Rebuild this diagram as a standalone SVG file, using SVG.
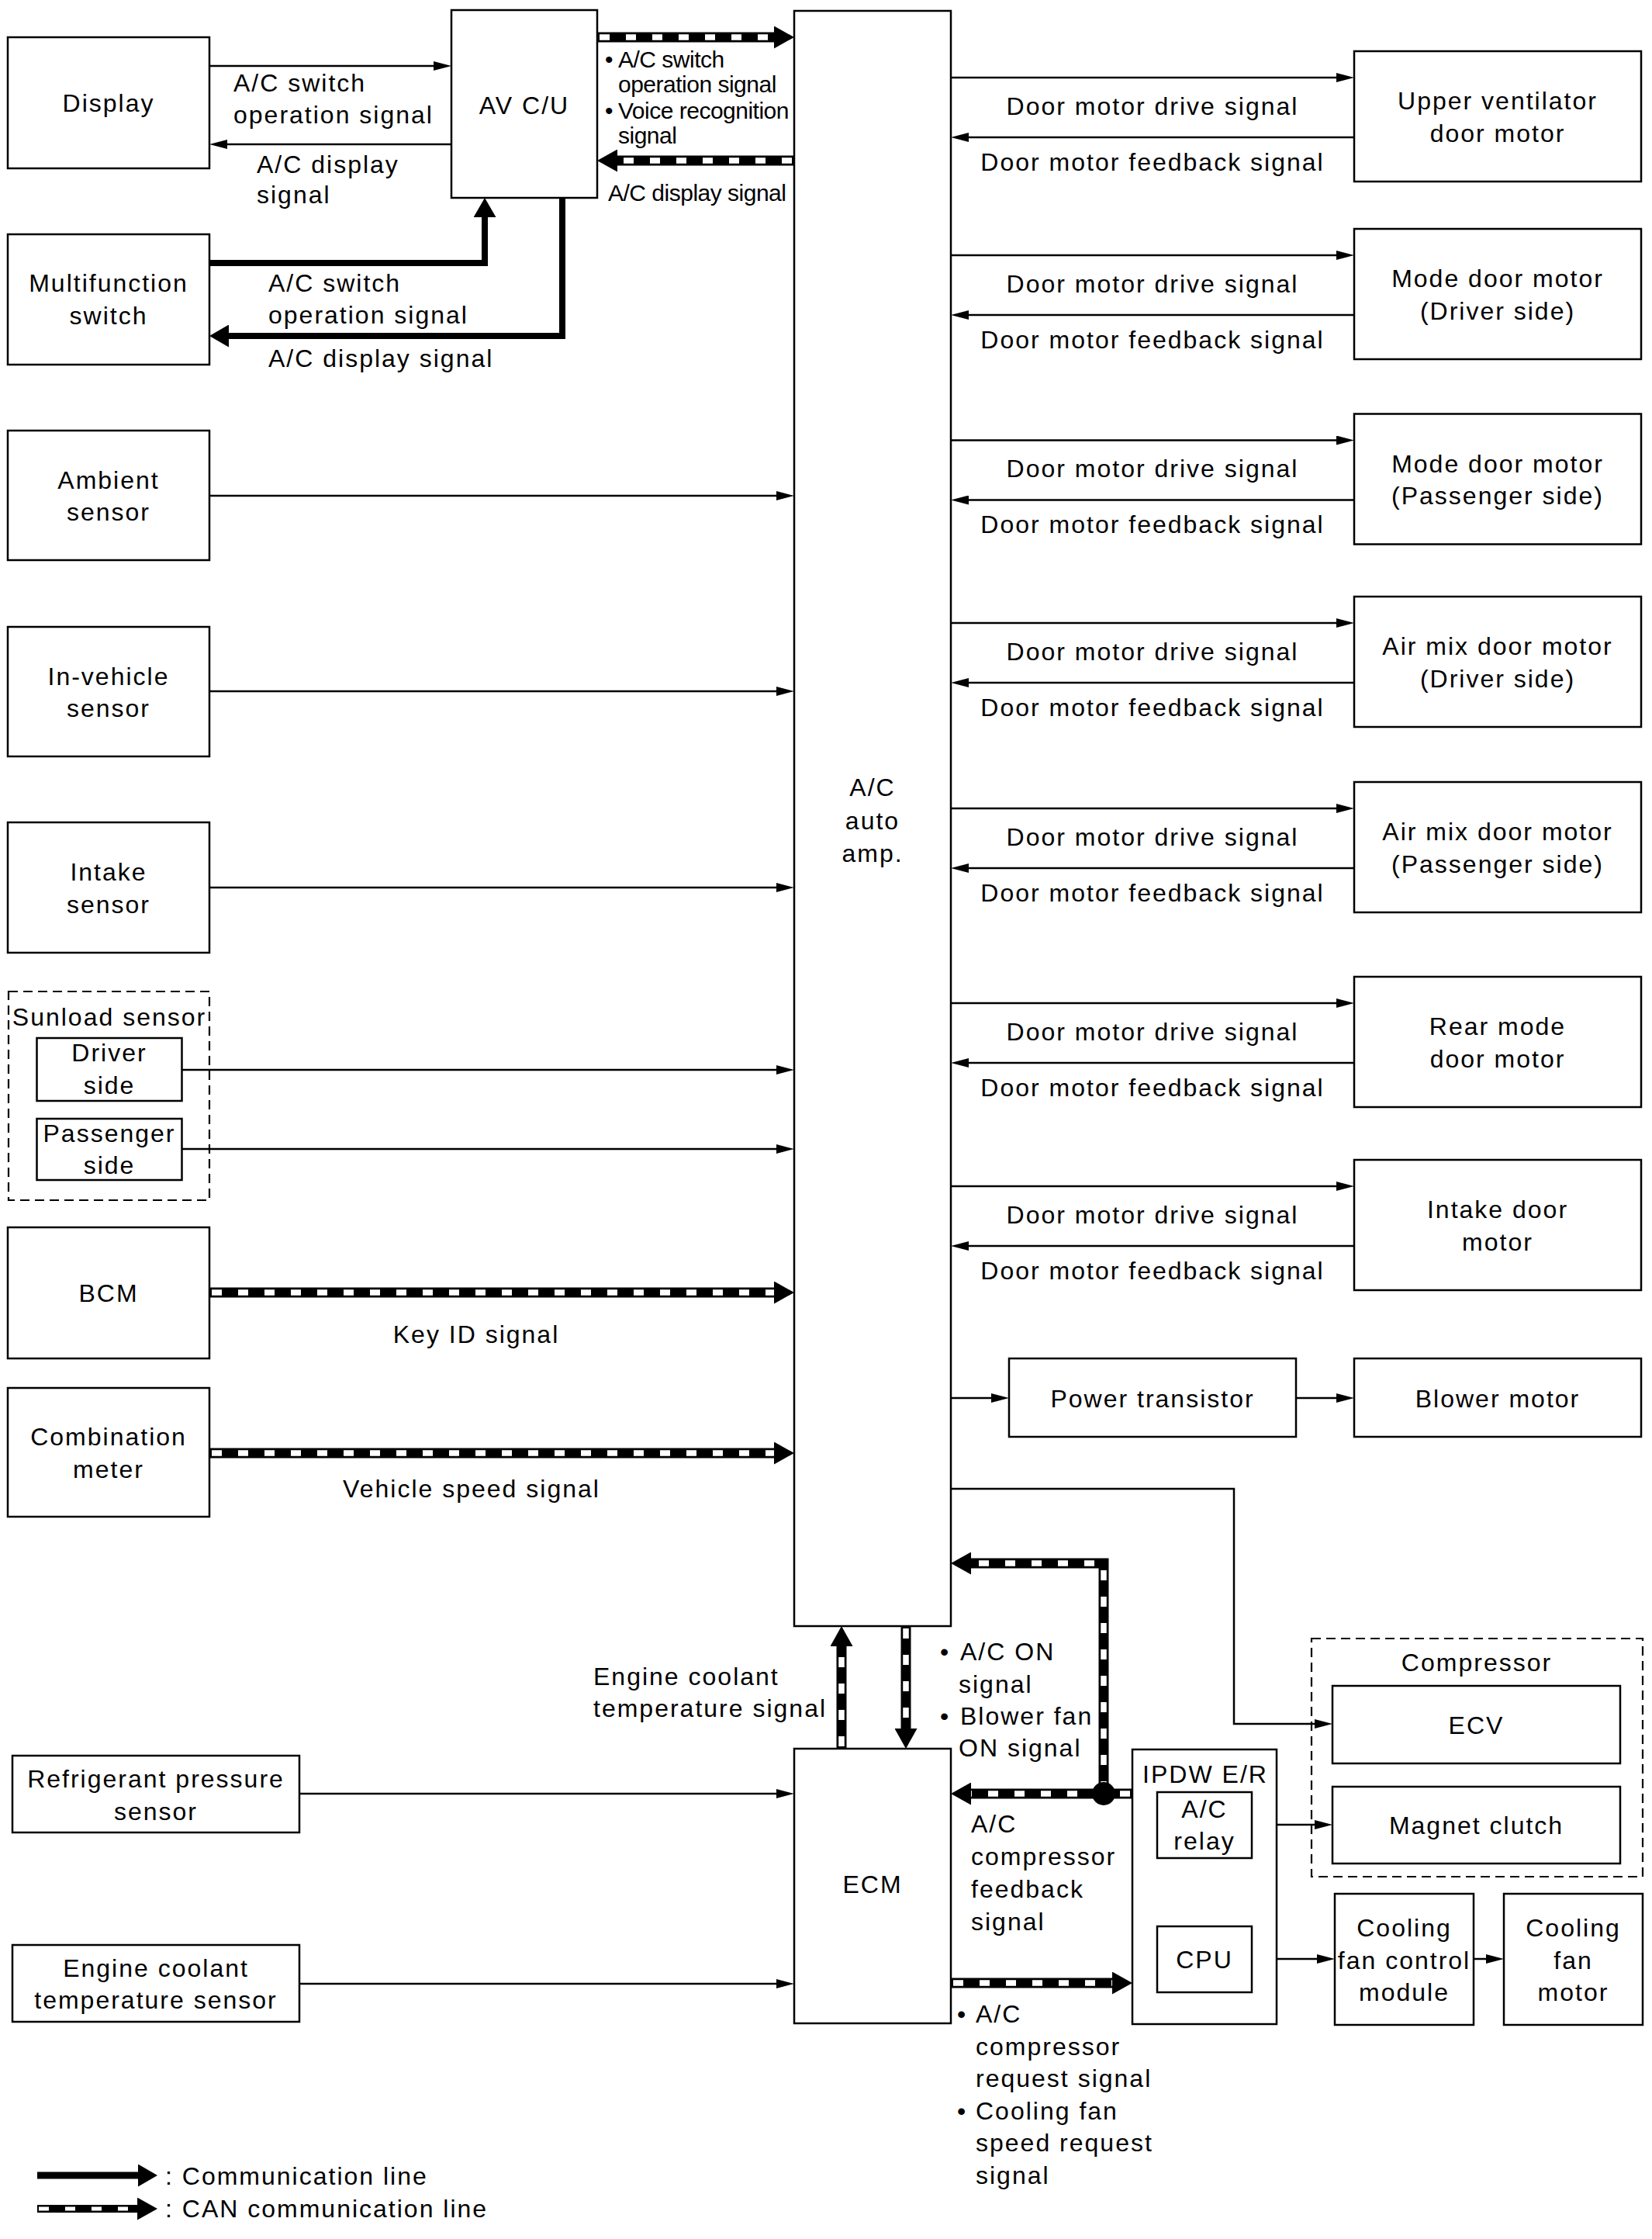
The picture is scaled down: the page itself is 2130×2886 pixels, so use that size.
<svg xmlns="http://www.w3.org/2000/svg" width="2130" height="2886" viewBox="0 0 2130 2886">
<style>
text{font-family:"Liberation Sans",Arial,Helvetica,sans-serif;font-size:32px;letter-spacing:2px;fill:#000}
.c{text-anchor:middle}
.n{font-size:30px;letter-spacing:-0.5px}
.box{fill:#fff;stroke:#000;stroke-width:2.5}
.dash{fill:none;stroke:#000;stroke-width:2.2;stroke-dasharray:12 7}
.thin{fill:none;stroke:#000;stroke-width:2.5}
.comm{fill:none;stroke:#000;stroke-width:8}
.canb{fill:none;stroke:#000;stroke-width:13}
.canw{fill:none;stroke:#fff;stroke-width:7.5;stroke-dasharray:13 21;stroke-dashoffset:-3}
</style>
<defs>
<marker id="at" markerUnits="userSpaceOnUse" markerWidth="23" markerHeight="12" refX="0" refY="6" orient="auto"><path d="M0,0 L23,6 L0,12 z" fill="#000"/></marker>
<marker id="ac" markerUnits="userSpaceOnUse" markerWidth="26" markerHeight="29" refX="0" refY="14.5" orient="auto"><path d="M0,0 L26,14.5 L0,29 z" fill="#000"/></marker>
<marker id="am" markerUnits="userSpaceOnUse" markerWidth="25" markerHeight="29" refX="0" refY="14.5" orient="auto"><path d="M0,0 L25,14.5 L0,29 z" fill="#000"/></marker>
</defs>
<rect width="2130" height="2886" fill="#fff"/>

<g id="connectors">
<path class="thin" d="M270,85 H559" marker-end="url(#at)"/>
<path class="thin" d="M582,186 H293" marker-end="url(#at)"/>
<path class="comm" d="M270,339 H625 V280" marker-end="url(#am)"/>
<path class="comm" d="M725,255 V433 H295" marker-end="url(#am)"/>
<path class="canb" d="M770,48 H998" marker-end="url(#ac)"/><path class="canw" d="M770,48 H998"/>
<path class="canb" d="M1024,207 H796" marker-end="url(#ac)"/><path class="canw" d="M1024,207 H796"/>
<path class="thin" d="M270,639 H1001" marker-end="url(#at)"/>
<path class="thin" d="M270,891 H1001" marker-end="url(#at)"/>
<path class="thin" d="M270,1144 H1001" marker-end="url(#at)"/>
<path class="thin" d="M234,1379 H1001" marker-end="url(#at)"/>
<path class="thin" d="M234,1481 H1001" marker-end="url(#at)"/>
<path class="canb" d="M270,1666 H998" marker-end="url(#ac)"/><path class="canw" d="M270,1666 H998"/>
<path class="canb" d="M270,1873 H998" marker-end="url(#ac)"/><path class="canw" d="M270,1873 H998"/>
<path class="thin" d="M1226,100 H1723" marker-end="url(#at)"/>
<path class="thin" d="M1746,177 H1249" marker-end="url(#at)"/>
<path class="thin" d="M1226,329 H1723" marker-end="url(#at)"/>
<path class="thin" d="M1746,406 H1249" marker-end="url(#at)"/>
<path class="thin" d="M1226,567.5 H1723" marker-end="url(#at)"/>
<path class="thin" d="M1746,644.5 H1249" marker-end="url(#at)"/>
<path class="thin" d="M1226,803 H1723" marker-end="url(#at)"/>
<path class="thin" d="M1746,880 H1249" marker-end="url(#at)"/>
<path class="thin" d="M1226,1042 H1723" marker-end="url(#at)"/>
<path class="thin" d="M1746,1119 H1249" marker-end="url(#at)"/>
<path class="thin" d="M1226,1293 H1723" marker-end="url(#at)"/>
<path class="thin" d="M1746,1370 H1249" marker-end="url(#at)"/>
<path class="thin" d="M1226,1529 H1723" marker-end="url(#at)"/>
<path class="thin" d="M1746,1606 H1249" marker-end="url(#at)"/>
<path class="thin" d="M1226,1802 H1278" marker-end="url(#at)"/>
<path class="thin" d="M1671,1802 H1723" marker-end="url(#at)"/>
<path class="thin" d="M1226,1919 H1591 V2222 H1695" marker-end="url(#at)"/>
<path class="canb" d="M1085,2254 V2122" marker-end="url(#ac)"/><path class="canw" d="M1085,2254 V2122"/>
<path class="canb" d="M1168,2096 V2228" marker-end="url(#ac)"/><path class="canw" d="M1168,2096 V2228"/>
<path class="canb" d="M1423,2312 V2015 H1252" marker-end="url(#ac)"/><path class="canw" d="M1423,2312 V2015 H1252"/>
<path class="canb" d="M1460,2312 H1252" marker-end="url(#ac)"/><path class="canw" d="M1460,2312 H1252"/>
<circle cx="1423" cy="2312" r="15" fill="#000"/>
<path class="canb" d="M1226,2556 H1434" marker-end="url(#ac)"/><path class="canw" d="M1226,2556 H1434"/>
<path class="thin" d="M386,2312 H1001" marker-end="url(#at)"/>
<path class="thin" d="M386,2557 H1001" marker-end="url(#at)"/>
<path class="thin" d="M1614,2352 H1695" marker-end="url(#at)"/>
<path class="thin" d="M1553,2483 V2418" marker-end="url(#at)"/>
<path class="thin" d="M1614,2525 H1698" marker-end="url(#at)"/>
<path class="thin" d="M1900,2525 H1916" marker-end="url(#at)"/>
<path fill="none" stroke="#000" stroke-width="9" d="M48,2804 H178" marker-end="url(#am)"/>
<path fill="none" stroke="#000" stroke-width="10" d="M48,2847 H177" marker-end="url(#ac)"/><path fill="none" stroke="#fff" stroke-width="5" stroke-dasharray="13 21" stroke-dashoffset="-2" d="M48,2847 H177"/>
</g>

<g id="labels">
<text x="301" y="118">A/C switch</text>
<text x="301" y="159">operation signal</text>
<text x="331" y="223">A/C display</text>
<text x="331" y="262">signal</text>
<text x="346" y="376">A/C switch</text>
<text x="346" y="417">operation signal</text>
<text x="346" y="473">A/C display signal</text>
<text class="n" y="87"><tspan x="780">•</tspan><tspan x="797">A/C switch</tspan></text>
<text class="n" x="797" y="119">operation signal</text>
<text class="n" y="153"><tspan x="780">•</tspan><tspan x="797">Voice recognition</tspan></text>
<text class="n" x="797" y="185">signal</text>
<text class="n" x="784" y="259">A/C display signal</text>
<text class="c" x="614" y="1731">Key ID signal</text>
<text class="c" x="608" y="1930">Vehicle speed signal</text>
<text class="c" x="1486" y="147.5">Door motor drive signal</text>
<text class="c" x="1486" y="219.5">Door motor feedback signal</text>
<text class="c" x="1486" y="376.5">Door motor drive signal</text>
<text class="c" x="1486" y="448.5">Door motor feedback signal</text>
<text class="c" x="1486" y="615">Door motor drive signal</text>
<text class="c" x="1486" y="687">Door motor feedback signal</text>
<text class="c" x="1486" y="850.5">Door motor drive signal</text>
<text class="c" x="1486" y="922.5">Door motor feedback signal</text>
<text class="c" x="1486" y="1089.5">Door motor drive signal</text>
<text class="c" x="1486" y="1161.5">Door motor feedback signal</text>
<text class="c" x="1486" y="1340.5">Door motor drive signal</text>
<text class="c" x="1486" y="1412.5">Door motor feedback signal</text>
<text class="c" x="1486" y="1576.5">Door motor drive signal</text>
<text class="c" x="1486" y="1648.5">Door motor feedback signal</text>
<text x="765" y="2172">Engine coolant</text>
<text x="765" y="2213">temperature signal</text>
<text y="2140"><tspan x="1212">•</tspan><tspan x="1238">A/C ON</tspan></text>
<text x="1236" y="2182">signal</text>
<text y="2223"><tspan x="1212">•</tspan><tspan x="1238">Blower fan</tspan></text>
<text x="1236" y="2264">ON signal</text>
<text x="1252" y="2362">A/C</text>
<text x="1252" y="2404">compressor</text>
<text x="1252" y="2446">feedback</text>
<text x="1252" y="2488">signal</text>
<text y="2607"><tspan x="1234">•</tspan><tspan x="1258">A/C</tspan></text>
<text x="1258" y="2648.5">compressor</text>
<text x="1258" y="2690">request signal</text>
<text y="2731.5"><tspan x="1234">•</tspan><tspan x="1258">Cooling fan</tspan></text>
<text x="1258" y="2773">speed request</text>
<text x="1258" y="2814.5">signal</text>
<text x="213" y="2816">: Communication line</text>
<text x="213" y="2858">: CAN communication line</text>
</g>

<g id="display"><rect class="box" x="10" y="48" width="260" height="169"/><text class="c" x="140" y="144">Display</text></g>
<g id="multifunction-switch"><rect class="box" x="10" y="302" width="260" height="168"/><text class="c" x="140" y="376">Multifunction</text><text class="c" x="140" y="417.5">switch</text></g>
<g id="ambient-sensor"><rect class="box" x="10" y="555" width="260" height="167"/><text class="c" x="140" y="629.5">Ambient</text><text class="c" x="140" y="671">sensor</text></g>
<g id="in-vehicle-sensor"><rect class="box" x="10" y="808" width="260" height="167"/><text class="c" x="140" y="882.5">In-vehicle</text><text class="c" x="140" y="924">sensor</text></g>
<g id="intake-sensor"><rect class="box" x="10" y="1060" width="260" height="168"/><text class="c" x="140" y="1135">Intake</text><text class="c" x="140" y="1176.5">sensor</text></g>
<g id="sunload-sensor"><rect class="dash" x="11" y="1278" width="259" height="269"/><text class="c" x="141" y="1321.5">Sunload sensor</text>
<g id="sunload-driver"><rect class="box" x="47.5" y="1338" width="187" height="81"/><text class="c" x="141" y="1367.5">Driver</text><text class="c" x="141" y="1409.5">side</text></g>
<g id="sunload-passenger"><rect class="box" x="47.5" y="1442" width="187" height="79"/><text class="c" x="141" y="1471.5">Passenger</text><text class="c" x="141" y="1512.5">side</text></g></g>
<g id="bcm"><rect class="box" x="10" y="1582" width="260" height="169"/><text class="c" x="140" y="1678">BCM</text></g>
<g id="combination-meter"><rect class="box" x="10" y="1789" width="260" height="166"/><text class="c" x="140" y="1863">Combination</text><text class="c" x="140" y="1904.5">meter</text></g>
<g id="refrigerant-pressure-sensor"><rect class="box" x="16" y="2263" width="370" height="99"/><text class="c" x="201" y="2304">Refrigerant pressure</text><text class="c" x="201" y="2345.5">sensor</text></g>
<g id="engine-coolant-temperature-sensor"><rect class="box" x="16" y="2507" width="370" height="99"/><text class="c" x="201" y="2548">Engine coolant</text><text class="c" x="201" y="2589">temperature sensor</text></g>

<g id="av-cu"><rect class="box" x="582" y="13" width="188" height="242"/><text class="c" x="676" y="146.5">AV C/U</text></g>
<g id="ac-auto-amp"><rect class="box" x="1024" y="14" width="202" height="2082"/><text class="c" x="1125" y="1026">A/C</text><text class="c" x="1125" y="1068.5">auto</text><text class="c" x="1125" y="1110.5">amp.</text></g>
<g id="ecm"><rect class="box" x="1024" y="2254" width="202" height="354"/><text class="c" x="1125" y="2439.5">ECM</text></g>

<g id="upper-ventilator-door-motor"><rect class="box" x="1746" y="66" width="370" height="168"/><text class="c" x="1931" y="141">Upper ventilator</text><text class="c" x="1931" y="182.5">door motor</text></g>
<g id="mode-door-motor-driver"><rect class="box" x="1746" y="295" width="370" height="168"/><text class="c" x="1931" y="370">Mode door motor</text><text class="c" x="1931" y="411.5">(Driver side)</text></g>
<g id="mode-door-motor-passenger"><rect class="box" x="1746" y="533.5" width="370" height="168"/><text class="c" x="1931" y="608.5">Mode door motor</text><text class="c" x="1931" y="650">(Passenger side)</text></g>
<g id="air-mix-door-motor-driver"><rect class="box" x="1746" y="769" width="370" height="168"/><text class="c" x="1931" y="844">Air mix door motor</text><text class="c" x="1931" y="885.5">(Driver side)</text></g>
<g id="air-mix-door-motor-passenger"><rect class="box" x="1746" y="1008" width="370" height="168"/><text class="c" x="1931" y="1083">Air mix door motor</text><text class="c" x="1931" y="1124.5">(Passenger side)</text></g>
<g id="rear-mode-door-motor"><rect class="box" x="1746" y="1259" width="370" height="168"/><text class="c" x="1931" y="1334">Rear mode</text><text class="c" x="1931" y="1375.5">door motor</text></g>
<g id="intake-door-motor"><rect class="box" x="1746" y="1495" width="370" height="168"/><text class="c" x="1931" y="1570">Intake door</text><text class="c" x="1931" y="1611.5">motor</text></g>
<g id="power-transistor"><rect class="box" x="1301" y="1751" width="370" height="101"/><text class="c" x="1486" y="1813.5">Power transistor</text></g>
<g id="blower-motor"><rect class="box" x="1746" y="1751" width="370" height="101"/><text class="c" x="1931" y="1813.5">Blower motor</text></g>

<g id="compressor"><rect class="dash" x="1691" y="2112" width="427" height="307"/><text class="c" x="1904" y="2153.5">Compressor</text>
<g id="ecv"><rect class="box" x="1718" y="2173" width="371" height="100"/><text class="c" x="1903.5" y="2234.5">ECV</text></g>
<g id="magnet-clutch"><rect class="box" x="1718" y="2303" width="371" height="99"/><text class="c" x="1903.5" y="2364">Magnet clutch</text></g></g>

<g id="ipdw-er"><rect class="box" x="1460" y="2255" width="186" height="354"/><text class="c" x="1554" y="2297.5">IPDW E/R</text>
<g id="ac-relay"><rect class="box" x="1492" y="2310" width="122" height="85"/><text class="c" x="1553" y="2343">A/C</text><text class="c" x="1553" y="2384">relay</text></g>
<g id="cpu"><rect class="box" x="1492" y="2483" width="122" height="85"/><text class="c" x="1553" y="2537">CPU</text></g></g>
<g id="cooling-fan-control-module"><rect class="box" x="1721" y="2441" width="179" height="169"/><text class="c" x="1810.5" y="2496">Cooling</text><text class="c" x="1810.5" y="2537.5">fan control</text><text class="c" x="1810.5" y="2578.5">module</text></g>
<g id="cooling-fan-motor"><rect class="box" x="1939" y="2441" width="179" height="169"/><text class="c" x="2028.5" y="2496">Cooling</text><text class="c" x="2028.5" y="2537.5">fan</text><text class="c" x="2028.5" y="2578.5">motor</text></g>
</svg>
